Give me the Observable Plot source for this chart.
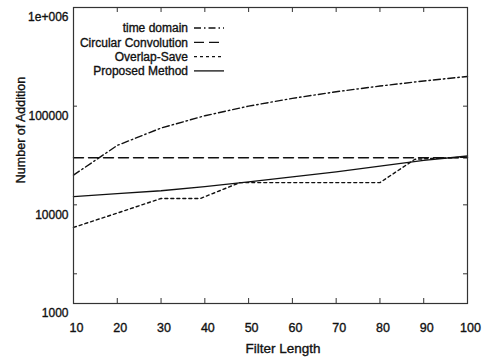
<!DOCTYPE html>
<html><head><meta charset="utf-8">
<script src="https://cdn.jsdelivr.net/npm/d3@7"></script>
<script src="https://cdn.jsdelivr.net/npm/@observablehq/plot@0.6"></script>
<style>body{margin:0;background:#fff} svg text{stroke:#111;stroke-width:0.35px}</style>
</head><body><div id="chart"></div>
<script>
const filterLength = [10, 20, 30, 40, 50, 60, 70, 80, 90, 100];
const timeDomain = [20000, 40000, 60000, 80000, 100000, 120000, 140000, 160000, 180000, 200000];
const circularConv = [30000, 30000, 30000, 30000, 30000, 30000, 30000, 30000, 30000, 30000];
const proposed = [12100, 13000, 13900, 15300, 17100, 19200, 21600, 24700, 28200, 31300];
const overlapLength = [10, 20, 30, 39, 48, 60, 70, 80, 88, 100];
const overlapSave = [5900, 8250, 11600, 11600, 16800, 16800, 16800, 16800, 29000, 30500];
const seriesNames = ["time domain", "Circular Convolution", "Overlap-Save", "Proposed Method"];
const dashes = ["7,3,1.5,3", "10,5", "3,3", null];
const xTicks = [10, 20, 30, 40, 50, 60, 70, 80, 90, 100];
const yTicks = [1000, 10000, 100000, 1000000];
const yTickLabels = ["1000", "10000", "100000", "1e+006"];
const yMinorTicks = [2000];

const rows = [];
filterLength.forEach((x, i) => rows.push({series: seriesNames[0], x, y: timeDomain[i]}));
filterLength.forEach((x, i) => rows.push({series: seriesNames[1], x, y: circularConv[i]}));
overlapLength.forEach((x, i) => rows.push({series: seriesNames[2], x, y: overlapSave[i]}));
filterLength.forEach((x, i) => rows.push({series: seriesNames[3], x, y: proposed[i]}));

const W = 486, H = 362, mL = 73, mR = 19, mT = 7, mB = 59;
const fw = W - mL - mR, fh = H - mT - mB;
const ink = "#111";

const chart = Plot.plot({
  width: W, height: H,
  marginLeft: mL, marginRight: mR, marginTop: mT, marginBottom: mB,
  style: {fontFamily: "'Liberation Sans', Arial, sans-serif", fontSize: "12px", color: ink, background: "#fff"},
  x: {type: "linear", domain: [10, 100]},
  y: {type: "log", domain: [1000, 1000000]},
  marks: [
    ...seriesNames.map((s, i) => Plot.line(rows.filter(d => d.series === s), {
      x: "x", y: "y", stroke: ink, strokeWidth: 1.4, strokeDasharray: dashes[i]
    })),
    Plot.ruleX(xTicks, {x: d => d, insetTop: fh - 5, stroke: "#333"}),
    Plot.ruleX(xTicks, {x: d => d, insetBottom: fh - 5, stroke: "#333"}),
    Plot.ruleY([...yTicks, ...yMinorTicks], {y: d => d, insetRight: fw - 4, stroke: "#333"}),
    Plot.ruleY([...yTicks, ...yMinorTicks], {y: d => d, insetLeft: fw - 4, stroke: "#333"}),
    Plot.frame({stroke: "#333", strokeWidth: 1.2}),
    Plot.axisX({ticks: xTicks, tickSize: 0, tickPadding: 20, dx: 3, fontSize: 12.5, label: null, tickFormat: d => String(d)}),
    Plot.axisY({ticks: yTicks, tickSize: 0, tickPadding: 5, dy: 10, fontSize: 12, label: null,
      tickFormat: d => yTickLabels[yTicks.indexOf(d)]})
  ]
});
document.getElementById("chart").appendChild(chart);

const svg = d3.select(chart);
const font = "'Liberation Sans', Arial, sans-serif";
const leg = svg.append("g").attr("font-family", font).attr("font-size", 12).attr("fill", ink);
seriesNames.forEach((s, i) => {
  const y = 28 + 14.3 * i;
  leg.append("text").attr("x", 188).attr("y", y).attr("dy", "0.35em").attr("text-anchor", "end").text(s);
  leg.append("line").attr("x1", 194).attr("x2", 224).attr("y1", y).attr("y2", y)
    .attr("stroke", ink).attr("stroke-width", 1.3).attr("stroke-dasharray", dashes[i]);
});
svg.append("text").attr("font-family", font).attr("font-size", 13.5).attr("fill", ink)
  .attr("x", 283).attr("y", 353).attr("text-anchor", "middle").text("Filter Length");
svg.append("text").attr("font-family", font).attr("font-size", 12.5).attr("fill", ink)
  .attr("transform", "translate(25,130) rotate(-90)").attr("text-anchor", "middle").text("Number of Addition");
</script>
</body></html>
